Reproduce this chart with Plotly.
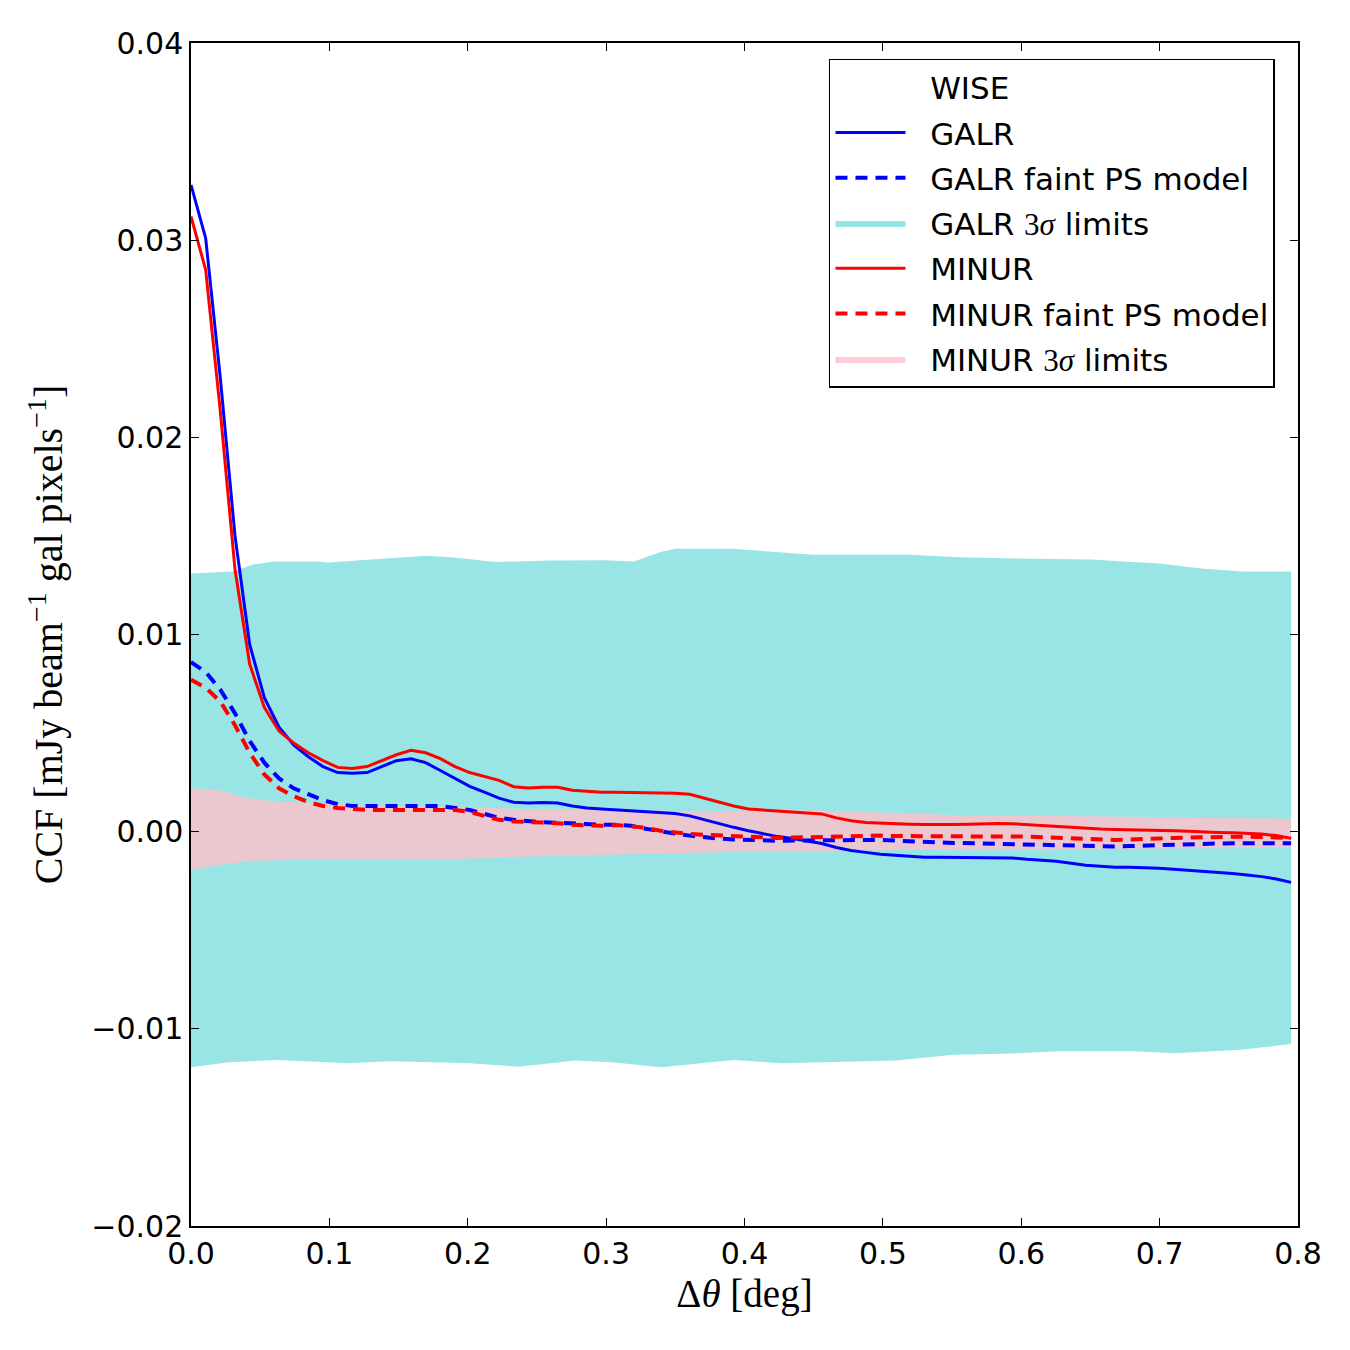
import plotly.graph_objects as go

# common sampling grid of the curves (deg)
step = 0.0106
n_pts = 76
theta = [round(i * step, 4) for i in range(n_pts)]

galr = [0.0328, 0.0301, 0.0230, 0.0150, 0.0095, 0.0068, 0.0053, 0.0044, 0.0038, 0.0033,
        0.0030, 0.00296, 0.0030, 0.0033, 0.0036, 0.0037, 0.0035, 0.0031, 0.0027, 0.0023,
        0.0020, 0.0017, 0.00149, 0.00145, 0.00148, 0.00145, 0.0013, 0.0012, 0.00115, 0.0011,
        0.00106, 0.0010, 0.00095, 0.00092, 0.0008, 0.0006, 0.0004, 0.00022, 0.00005, -0.0001,
        -0.00025, -0.00035, -0.00046, -0.0006, -0.0008, -0.00095, -0.00105, -0.00115, -0.0012, -0.00125,
        -0.0013, -0.0013, -0.0013, -0.0013, -0.0013, -0.0013, -0.00133, -0.0014, -0.00145, -0.0015,
        -0.0016, -0.0017, -0.00175, -0.0018, -0.0018, -0.00182, -0.00185, -0.0019, -0.00195, -0.0020,
        -0.00206, -0.00212, -0.0022, -0.00228, -0.0024, -0.00257]

galr_model = [0.0086, 0.0081, 0.0072, 0.0060, 0.0046, 0.0035, 0.0027, 0.0022, 0.0019, 0.0016,
              0.0014, 0.0013, 0.0013, 0.0013, 0.0013, 0.0013, 0.0013, 0.0013, 0.0012, 0.0011,
              0.0009, 0.0007, 0.0006, 0.00052, 0.00048, 0.00045, 0.0004, 0.00035, 0.00035, 0.00035,
              0.0003, 0.00015, 0.0, -0.0001, -0.0002, -0.0003, -0.00035, -0.0004, -0.00043, -0.00045,
              -0.00046, -0.00045, -0.00044, -0.00043, -0.00042, -0.00042, -0.00042, -0.00042, -0.00045, -0.0005,
              -0.00053, -0.00055, -0.00057, -0.00059, -0.0006, -0.0006, -0.0006, -0.00062, -0.00065, -0.00068,
              -0.0007, -0.00072, -0.00074, -0.00075, -0.00073, -0.0007, -0.00068, -0.00068, -0.00066, -0.00063,
              -0.0006, -0.00059, -0.00059, -0.00059, -0.00059, -0.00059]

minur = [0.0312, 0.0285, 0.0213, 0.0133, 0.0085, 0.0063, 0.0051, 0.0045, 0.0040, 0.0036,
         0.00326, 0.0032, 0.0033, 0.0036, 0.0039, 0.00413, 0.0040, 0.0037, 0.0033, 0.0030,
         0.0028, 0.0026, 0.00228, 0.00222, 0.00225, 0.00225, 0.0021, 0.00205, 0.0020, 0.0020,
         0.00199, 0.00198, 0.00197, 0.00195, 0.0019, 0.0017, 0.0015, 0.0013, 0.00115, 0.0011,
         0.00105, 0.0010, 0.00098, 0.0009, 0.0007, 0.00055, 0.00047, 0.00043, 0.0004, 0.00038,
         0.00036, 0.00035, 0.00036, 0.00038, 0.0004, 0.00042, 0.0004, 0.00035, 0.0003, 0.00025,
         0.0002, 0.00015, 0.00013, 0.00011, 0.0001, 0.0001, 0.00009, 0.00005, 0.00002, -0.00002,
         -0.00004, -0.00006, -0.00009, -0.00012, -0.0002, -0.00034]

minur_model = [0.0077, 0.0073, 0.0066, 0.0054, 0.0040, 0.0029, 0.0022, 0.0018, 0.0015, 0.0013,
               0.0012, 0.00113, 0.0011, 0.0011, 0.0011, 0.0011, 0.00113, 0.00115, 0.0011, 0.0010,
               0.0008, 0.0006, 0.00052, 0.0005, 0.00047, 0.00043, 0.00035, 0.0003, 0.0003, 0.00034,
               0.00028, 0.0002, 0.00005, -0.00005, -0.00012, -0.00016, -0.0002, -0.00025, -0.00028, -0.0003,
               -0.00032, -0.0003, -0.00028, -0.00026, -0.00024, -0.00022, -0.0002, -0.0002, -0.00022, -0.00023,
               -0.00024, -0.00025, -0.00025, -0.00025, -0.00025, -0.00025, -0.00025, -0.00025, -0.00028, -0.00032,
               -0.00036, -0.0004, -0.00042, -0.00042, -0.0004, -0.00036, -0.00033, -0.00032, -0.0003, -0.00028,
               -0.00026, -0.00025, -0.00025, -0.00027, -0.0003, -0.00032]

# 3-sigma limits
galr_up_x = [0.0, 0.03, 0.045, 0.06, 0.09, 0.1, 0.13, 0.17, 0.19, 0.22, 0.26, 0.3, 0.32,
             0.34, 0.35, 0.39, 0.42, 0.45, 0.52, 0.56, 0.65, 0.7, 0.73, 0.76, 0.795]
galr_up = [0.0131, 0.0132, 0.01355, 0.0137, 0.0137, 0.01365, 0.0138, 0.0140, 0.0139, 0.01368,
           0.01375, 0.01376, 0.0137, 0.0142, 0.01435, 0.01435, 0.0142, 0.01405, 0.01405, 0.0139,
           0.0138, 0.0136, 0.01335, 0.0132, 0.0132]
galr_lo_x = [0.0, 0.027, 0.062, 0.114, 0.145, 0.201, 0.237, 0.278, 0.304, 0.34, 0.392, 0.427,
             0.51, 0.551, 0.587, 0.628, 0.68, 0.711, 0.757, 0.795]
galr_lo = [-0.01195, -0.0117, -0.01158, -0.01175, -0.01165, -0.01175, -0.01192, -0.01161, -0.0117,
           -0.01195, -0.01158, -0.01175, -0.01161, -0.01131, -0.01127, -0.01114, -0.01114, -0.01124,
           -0.01107, -0.01077]

minur_up_x = [0.0, 0.021, 0.035, 0.05, 0.07, 0.1, 0.14, 0.2, 0.24, 0.3, 0.36, 0.45, 0.5,
              0.55, 0.62, 0.7, 0.795]
minur_up = [0.0022, 0.0021, 0.0018, 0.0016, 0.0015, 0.0014, 0.0013, 0.00125, 0.00115, 0.0011,
            0.00105, 0.00108, 0.00095, 0.00085, 0.00081, 0.00075, 0.00066]
minur_lo_x = [0.0, 0.02, 0.044, 0.1, 0.19, 0.28, 0.36, 0.42, 0.55, 0.65, 0.795]
minur_lo = [-0.00195, -0.0017, -0.00148, -0.0014, -0.00138, -0.0012, -0.00108, -0.0010,
            -0.0009, -0.00088, -0.00083]

x_ticks = [0.0, 0.1, 0.2, 0.3, 0.4, 0.5, 0.6, 0.7, 0.8]
x_ticktext = ["0.0", "0.1", "0.2", "0.3", "0.4", "0.5", "0.6", "0.7", "0.8"]
y_ticks = [-0.02, -0.01, 0.0, 0.01, 0.02, 0.03, 0.04]
y_ticktext = ["\u22120.02", "\u22120.01", "0.00", "0.01", "0.02", "0.03", "0.04"]

CYAN = "rgba(0,191,191,0.4)"
PINK = "rgba(255,192,203,0.8)"
SIG = "<span style='font-family:Liberation Serif'>3<i>σ</i></span>"
PAD = "\u00a0\u00a0"

fig = go.Figure()

# bands
fig.add_trace(go.Scatter(x=galr_lo_x, y=galr_lo, mode="lines", line=dict(width=0, color=CYAN),
                         showlegend=False, hoverinfo="skip"))
fig.add_trace(go.Scatter(x=galr_up_x, y=galr_up, mode="lines", line=dict(width=0, color=CYAN),
                         fill="tonexty", fillcolor=CYAN, name=PAD + "GALR " + SIG + " limits",
                         legendrank=4, legendgroup="g4"))
fig.add_trace(go.Scatter(x=minur_lo_x, y=minur_lo, mode="lines", line=dict(width=0, color=PINK),
                         showlegend=False, hoverinfo="skip"))
fig.add_trace(go.Scatter(x=minur_up_x, y=minur_up, mode="lines", line=dict(width=0, color=PINK),
                         fill="tonexty", fillcolor=PINK, name=PAD + "MINUR " + SIG + " limits",
                         legendrank=7, legendgroup="g7"))

# curves
fig.add_trace(go.Scatter(x=theta, y=galr, mode="lines", line=dict(color="#0000ff", width=3),
                         name=PAD + "GALR", legendrank=2, legendgroup="g2"))
fig.add_trace(go.Scatter(x=theta, y=galr_model, mode="lines",
                         line=dict(color="#0000ff", width=4, dash="12px,8px"),
                         name=PAD + "GALR faint PS model", legendrank=3, legendgroup="g3"))
fig.add_trace(go.Scatter(x=theta, y=minur, mode="lines", line=dict(color="#ff0000", width=3),
                         name=PAD + "MINUR", legendrank=5, legendgroup="g5"))
fig.add_trace(go.Scatter(x=theta, y=minur_model, mode="lines",
                         line=dict(color="#ff0000", width=4, dash="12px,8px"),
                         name=PAD + "MINUR faint PS model", legendrank=6, legendgroup="g6"))
fig.add_trace(go.Scatter(x=[None], y=[None], mode="lines", line=dict(color="rgba(0,0,0,0)", width=0),
                         name=PAD + "WISE", legendrank=1, legendgroup="g1"))

axis_common = dict(showline=True, linecolor="black", linewidth=1.5, mirror="ticks",
                   ticks="inside", ticklen=8, tickwidth=1, tickcolor="black",
                   showgrid=False, zeroline=False,
                   tickfont=dict(family="DejaVu Sans", size=30, color="black"))

fig.update_layout(
    width=1350, height=1350,
    margin=dict(l=191, r=52, t=43, b=124),
    paper_bgcolor="white", plot_bgcolor="white",
    xaxis=dict(range=[0, 0.8], tickvals=x_ticks, ticktext=x_ticktext,
               title=dict(text="Δ<i>θ</i> [deg]", standoff=10,
                          font=dict(family="Liberation Serif", size=39, color="black")),
               **axis_common),
    yaxis=dict(range=[-0.02, 0.04], tickvals=y_ticks, ticktext=y_ticktext,
               title=dict(text="CCF [mJy beam<sup>−1</sup> gal pixels<sup>−1</sup>]", standoff=16,
                          font=dict(family="Liberation Serif", size=40, color="black")),
               **axis_common),
    legend=dict(x=0.5763, y=0.9865, xanchor="left", yanchor="top",
                bordercolor="black", borderwidth=1.5, bgcolor="white",
                font=dict(family="DejaVu Sans", size=31, color="black"),
                traceorder="grouped", tracegroupgap=2, itemwidth=70),
    showlegend=True,
)

fig.write_html("out.html")
